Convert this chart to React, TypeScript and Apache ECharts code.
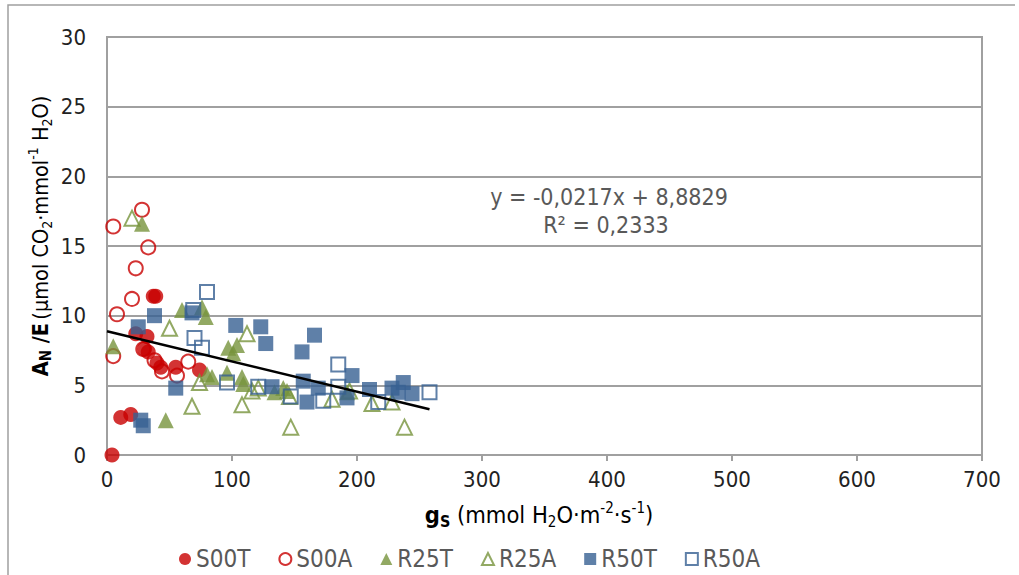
import React, { useEffect, useRef } from "react";
import * as echarts from "echarts";

// ---- data (gs, AN/E) ----
const S00T = [[4, 0], [11, 2.7], [19, 2.9], [37, 11.4], [39, 11.4], [23, 8.7], [32, 8.5], [30, 7.6], [33, 7.4], [40, 6.6], [43, 6.3], [55, 6.3], [74, 6.1]];
const S00A = [[5, 16.4], [28, 17.6], [33, 14.9], [23, 13.4], [20, 11.2], [8, 10.1], [5, 7.1], [29, 7.6], [38, 6.8], [44, 6.0], [56, 5.7], [65, 6.7]];
const R25T = [[5, 7.8], [28, 16.6], [47, 2.5], [60, 10.4], [76, 10.6], [79, 9.9], [80, 5.8], [84, 5.6], [97, 7.7], [104, 7.9], [101, 7.3], [96, 5.9], [108, 5.6], [109, 5.1], [134, 4.5], [141, 4.8], [144, 4.6], [192, 4.5]];
const R25A = [[20, 17.0], [50, 9.1], [68, 3.5], [74, 5.2], [108, 3.6], [112, 8.7], [116, 4.6], [121, 4.8], [147, 2.0], [238, 2.0], [146, 4.2], [180, 4.0], [212, 3.7], [228, 3.8], [194, 4.6]];
const R50T = [[25, 9.2], [38, 10.0], [55, 4.8], [27, 2.5], [29, 2.1], [68, 10.2], [103, 9.3], [123, 9.2], [127, 8.0], [132, 4.9], [156, 7.4], [166, 8.6], [157, 5.3], [160, 3.8], [169, 4.8], [196, 5.7], [192, 4.1], [210, 4.7], [228, 4.8], [237, 5.2], [244, 4.4], [233, 4.5]];
const R50A = [[80, 11.7], [69, 10.4], [70, 8.4], [76, 7.7], [96, 5.2], [121, 4.9], [185, 6.5], [147, 4.2], [173, 3.9], [185, 4.9], [217, 3.8], [258, 4.5]];

const SLOPE = -0.0217;
const INTERCEPT = 8.8829;
const TREND_X = [0, 258];
const EQUATION = "y = -0,0217x + 8,8829";
const R2_TEXT = "R² = 0,2333";

const X_TICKS = [0, 100, 200, 300, 400, 500, 600, 700];
const Y_TICKS = [0, 5, 10, 15, 20, 25, 30];

const RED = "#C80000";
const GREEN = "#77933C";
const BLUE = "#376092";
const FONT = "'DejaVu Sans Condensed', 'DejaVu Sans'";

export default function App() {
  const ref = useRef<HTMLDivElement>(null);
  useEffect(() => {
    if (!ref.current) return;
    const chart = echarts.init(ref.current, null, { renderer: "svg" });
    const filled = (c: string) => ({ color: c });
    const open = (c: string) => ({ color: "rgba(255,255,255,0)", borderColor: c, borderWidth: 2 });
    const seriesDefs = [
      { name: "S00T", data: S00T, symbol: "circle", size: 15, style: filled(RED), legendStyle: filled(RED) },
      { name: "S00A", data: S00A, symbol: "circle", size: 14, style: open(RED), legendStyle: { color: "#fff", borderColor: RED, borderWidth: 2 } },
      { name: "R25T", data: R25T, symbol: "triangle", size: 16, style: filled(GREEN), legendStyle: filled(GREEN) },
      { name: "R25A", data: R25A, symbol: "triangle", size: 15, style: open(GREEN), legendStyle: { color: "#fff", borderColor: GREEN, borderWidth: 2 } },
      { name: "R50T", data: R50T, symbol: "rect", size: 15, style: filled(BLUE), legendStyle: filled(BLUE) },
      { name: "R50A", data: R50A, symbol: "rect", size: 14, style: open(BLUE), legendStyle: { color: "#fff", borderColor: BLUE, borderWidth: 2 } },
    ];
    const trend = TREND_X.map((x) => [x, SLOPE * x + INTERCEPT]);
    const mkRich = (main: number, small: number) => ({
      n: { fontFamily: FONT, fontSize: main, color: "#000", lineHeight: main + 6 },
      b: { fontFamily: FONT, fontSize: main, fontWeight: "bold", color: "#000", lineHeight: main + 6 },
      bs: { fontFamily: FONT, fontSize: small + 1, fontWeight: "bold", color: "#000", verticalAlign: "bottom", lineHeight: small + 3 },
      sub: { fontFamily: FONT, fontSize: small, color: "#000", verticalAlign: "bottom", lineHeight: small + 3 },
      sup: { fontFamily: FONT, fontSize: small, color: "#000", verticalAlign: "top", lineHeight: small + 3 },
    });
    chart.setOption({
      animation: false,
      backgroundColor: "#fff",
      textStyle: { fontFamily: FONT },
      grid: { left: 107, right: 37, top: 37, bottom: 120, show: true, borderColor: "#A0A0A0", borderWidth: 2, backgroundColor: "transparent" },
      xAxis: {
        type: "value", min: X_TICKS[0], max: X_TICKS[X_TICKS.length - 1], interval: 100,
        axisLine: { show: true, lineStyle: { color: "#A0A0A0", width: 2 } },
        axisTick: { show: true, length: 6, lineStyle: { color: "#A0A0A0", width: 2 } },
        splitLine: { show: false },
        axisLabel: { color: "#222", fontSize: 22, fontFamily: FONT, margin: 13 },
      },
      yAxis: {
        type: "value", min: Y_TICKS[0], max: Y_TICKS[Y_TICKS.length - 1], interval: 5,
        axisLine: { show: true, lineStyle: { color: "#A0A0A0", width: 2 } },
        axisTick: { show: false },
        splitLine: { show: true, lineStyle: { color: "#A0A0A0", width: 2 } },
        axisLabel: { color: "#222", fontSize: 22, fontFamily: FONT, margin: 21 },
      },
      legend: {
        left: 174, top: 542, itemGap: 28, itemWidth: 12, itemHeight: 12,
        textStyle: { fontSize: 24, color: "#595959", fontFamily: FONT },
        data: seriesDefs.map((s) => ({ name: s.name, icon: s.symbol, itemStyle: s.legendStyle })),
      },
      series: [
        ...seriesDefs.map((s) => ({
          type: "scatter", name: s.name, data: s.data, symbol: s.symbol, symbolSize: s.size,
          itemStyle: s.style,
        })),
        {
          type: "line", name: "trend", data: trend, symbol: "none", z: 10,
          lineStyle: { color: "#000", width: 2.5 },
        },
      ],
      graphic: [
        { type: "polyline", shape: { points: [[8, 575], [8, 5], [1015, 5]] }, style: { stroke: "#A0A0A0", lineWidth: 1.5, fill: null } },
        { type: "text", x: 609, y: 197, style: { text: EQUATION, fontSize: 23, fontFamily: FONT, fill: "#595959", align: "center", verticalAlign: "middle" } },
        { type: "text", x: 606, y: 225, style: { text: R2_TEXT, fontSize: 23, fontFamily: FONT, fill: "#595959", align: "center", verticalAlign: "middle" } },
        {
          type: "text", x: 539, y: 515,
          style: {
            text: "{b|g}{bs|S}{n| (mmol H}{sub|2}{n|O·m}{sup|-2}{n|·s}{sup|-1}{n|)}",
            rich: mkRich(23.5, 15), align: "center", verticalAlign: "middle",
          },
        },
        {
          type: "text", x: 40, y: 236, rotation: Math.PI / 2,
          style: {
            text: "{b|A}{bs|N}{b| /E} {n|(µmol CO}{sub|2}{n|·mmol}{sup|-1}{n| H}{sub|2}{n|O)}",
            rich: mkRich(21.5, 14), align: "center", verticalAlign: "middle",
          },
        },
      ],
    });
    return () => chart.dispose();
  }, []);
  return <div ref={ref} style={{ width: 1019, height: 575, position: "absolute", left: 0, top: 0 }} />;
}
